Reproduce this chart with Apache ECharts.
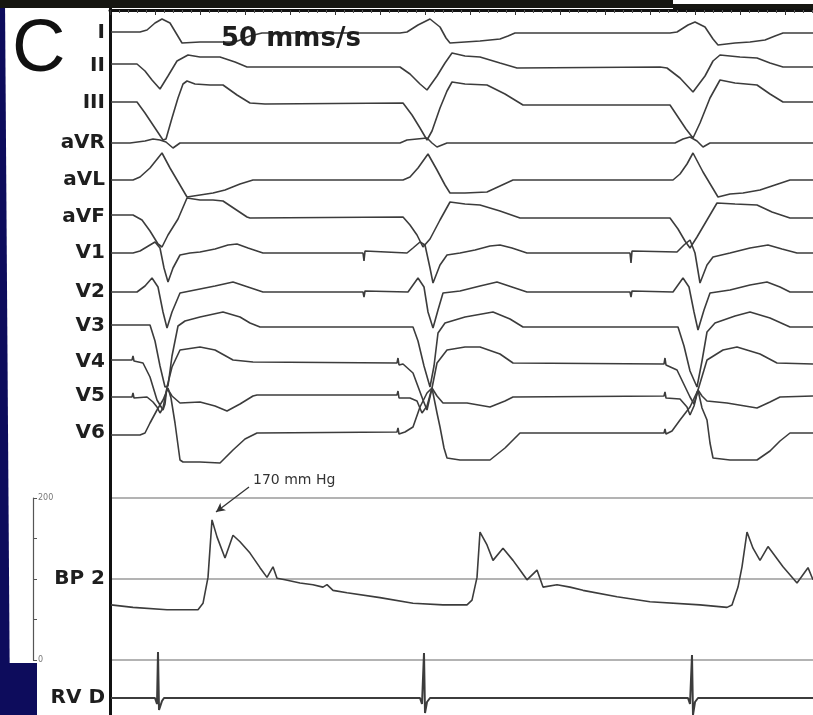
<!DOCTYPE html>
<html>
<head>
<meta charset="utf-8">
<script src="https://cdn.jsdelivr.net/npm/echarts@6/dist/echarts.min.js"></script>
<style>
  html, body { margin: 0; padding: 0; background: #fff; }
  #ecg { width: 813px; height: 715px; }
</style>
</head>
<body>
<div id="ecg"></div>
<script>
const leadI = [[111,1],[140,1],[147,3],[155,10],[162,14],[170,10],[176,0],[182,-10],[200,-9],[235,-9],[250,-3],[262,0],[400,0],[407,1],[418,8],[430,14],[440,6],[446,-5],[450,-10],[465,-9],[480,-8],[500,-6],[508,-3],[515,0],[670,0],[677,1],[688,8],[695,11],[705,6],[713,-6],[718,-12],[735,-10],[750,-9],[765,-7],[775,-3],[783,0],[813,0]]
const leadII = [[111,2],[137,2],[145,-5],[152,-14],[160,-23],[168,-10],[177,5],[188,11],[200,9],[220,9],[235,4],[247,-1],[363,-1],[365,1],[367,-1],[400,-1],[410,-8],[420,-18],[427,-24],[437,-10],[445,3],[452,13],[465,10],[480,9],[500,3],[517,-2],[660,-1],[667,-2],[680,-12],[693,-26],[705,-10],[713,5],[720,11],[740,9],[757,8],[770,3],[783,-1],[813,-1]]
const leadIII = [[111,1],[137,1],[145,-10],[155,-25],[163,-37],[166,-36],[172,-15],[178,5],[183,19],[187,22],[195,19],[210,18],[223,18],[237,8],[250,0],[265,-1],[403,0],[412,-12],[420,-25],[427,-37],[432,-28],[440,-5],[447,12],[452,21],[465,19],[487,18],[505,9],[523,-2],[670,-2],[678,-14],[686,-26],[693,-35],[700,-20],[710,5],[720,23],[735,20],[757,18],[770,9],[783,1],[813,1]]
const leadAVR = [[111,0],[130,0],[145,2],[153,4],[160,3],[166,1],[173,-5],[180,0],[400,0],[407,3],[427,5],[432,0],[437,-4],[447,0],[675,0],[683,4],[690,6],[697,2],[703,-4],[710,0],[813,0]]
const leadAVL = [[111,0],[133,0],[140,3],[150,12],[162,27],[170,12],[180,-5],[187,-17],[200,-15],[213,-13],[225,-10],[240,-4],[253,0],[403,0],[410,3],[418,12],[428,26],[437,10],[445,-5],[450,-13],[465,-13],[487,-12],[500,-6],[513,0],[673,0],[680,6],[687,16],[693,27],[703,8],[712,-7],[718,-17],[730,-14],[743,-13],[760,-10],[775,-5],[790,0],[813,0]]
const leadAVF = [[111,2],[133,2],[142,-3],[150,-14],[158,-27],[162,-30],[168,-18],[178,-2],[187,19],[200,17],[213,17],[223,16],[235,8],[247,0],[250,-1],[403,0],[410,-8],[417,-18],[423,-30],[430,-22],[440,-3],[450,15],[465,13],[480,12],[500,6],[520,-1],[670,-1],[678,-12],[685,-24],[690,-31],[697,-20],[707,-3],[717,14],[735,13],[757,12],[772,5],[790,-1],[813,-1]]
const leadV1 = [[111,0],[133,0],[140,2],[150,8],[155,11],[160,5],[164,-15],[168,-29],[173,-15],[180,-2],[190,0],[200,1],[215,4],[228,8],[237,9],[248,5],[263,0],[363,0],[364,-8],[365,2],[366,0],[407,0],[413,5],[420,11],[425,8],[430,-15],[433,-30],[440,-12],[447,-2],[460,0],[475,3],[490,7],[500,8],[512,5],[527,0],[630,0],[631,-10],[632,2],[633,0],[677,1],[684,8],[690,13],[695,0],[700,-30],[707,-12],[713,-4],[730,0],[750,5],[768,8],[782,4],[797,0],[813,0]]
const leadV2 = [[111,0],[137,0],[145,6],[152,14],[158,5],[163,-20],[167,-36],[172,-20],[180,-1],[195,2],[215,6],[233,10],[248,5],[263,0],[363,0],[364,-5],[365,1],[366,0],[408,0],[413,7],[418,14],[424,5],[428,-20],[433,-36],[438,-18],[443,-1],[460,1],[480,6],[497,10],[512,5],[527,0],[630,0],[631,-5],[632,1],[633,0],[673,0],[678,7],[683,14],[689,5],[694,-20],[698,-38],[704,-18],[710,-1],[730,2],[750,7],[767,10],[780,5],[790,0],[813,0]]
const leadV3 = [[111,1],[150,1],[155,-15],[160,-40],[165,-61],[168,-60],[172,-30],[178,0],[185,5],[200,9],[223,14],[240,9],[250,3],[260,-1],[413,-1],[418,-15],[424,-40],[430,-61],[434,-40],[438,-7],[445,3],[465,9],[493,14],[510,7],[523,-1],[678,-1],[684,-20],[690,-45],[697,-61],[702,-35],[707,-6],[715,3],[735,10],[750,14],[770,8],[790,-1],[813,-1]]
const leadV4 = [[111,2],[132,2],[133,6],[134,1],[143,-1],[150,-15],[157,-38],[163,-48],[165,-42],[167,-25],[172,-5],[180,12],[200,15],[215,12],[233,2],[253,0],[397,-1],[398,4],[399,-3],[403,-2],[413,-11],[423,-38],[427,-48],[432,-26],[437,-1],[447,12],[465,15],[480,15],[500,8],[513,-1],[664,-2],[665,4],[666,-3],[677,-8],[690,-35],[694,-42],[698,-28],[707,2],[723,12],[737,15],[760,8],[777,-1],[813,-2]]
const leadV5 = [[111,-1],[132,-1],[133,3],[134,-2],[147,-1],[153,-6],[157,-11],[160,-17],[163,-12],[167,8],[172,0],[180,-7],[200,-6],[215,-10],[227,-15],[240,-8],[253,0],[257,1],[397,1],[398,5],[399,-2],[410,-2],[417,-5],[422,-17],[427,-10],[432,8],[437,0],[443,-7],[467,-7],[490,-11],[505,-5],[513,-1],[664,0],[665,4],[666,-2],[680,-3],[687,-11],[690,-19],[694,-10],[698,6],[702,0],[707,-5],[727,-7],[757,-12],[770,-6],[780,-1],[813,0]]
const leadV6 = [[111,-2],[140,-2],[145,0],[150,10],[157,23],[163,33],[168,45],[171,35],[175,10],[180,-27],[183,-29],[200,-29],[220,-30],[233,-17],[245,-6],[257,0],[397,1],[398,5],[399,-1],[405,1],[413,6],[420,26],[427,40],[432,45],[437,20],[440,6],[444,-15],[447,-25],[460,-27],[490,-27],[505,-15],[520,0],[664,0],[665,4],[666,-1],[672,2],[680,13],[690,26],[698,43],[702,25],[707,13],[710,-10],[713,-25],[730,-27],[757,-27],[770,-18],[780,-8],[790,0],[813,0]]
const rvD = [[111,0],[155,0],[157,-6],[158,46],[159,-12],[160,-14],[162,-3],[164,0],[420,0],[422,-6],[424,45],[425,-15],[427,-4],[430,0],[688,0],[690,-6],[692,43],[693,-17],[695,-4],[698,0],[813,0]]

// arterial pressure, mm Hg
const bp2 = [[111,68],[133,65],[167,62],[198,62],[203,70],[208,102],[212,173],[217,152],[225,126],[233,154],[240,146],[250,132],[260,114],[267,102],[273,115],[277,101],[285,99],[300,95],[313,93],[323,90],[327,93],[333,86],[347,83],[380,77],[413,70],[443,68],[467,68],[472,74],[477,102],[480,158],[487,142],[493,123],[503,138],[513,123],[520,111],[527,99],[537,111],[543,90],[557,93],[570,90],[583,86],[617,78],[650,72],[700,68],[727,65],[732,68],[738,90],[742,115],[747,158],[753,138],[760,123],[768,140],[783,115],[797,95],[808,114],[813,99]]

const leadNames = ['I','II','III','aVR','aVL','aVF','V1','V2','V3','V4','V5','V6']
const leadData = [leadI, leadII, leadIII, leadAVR, leadAVL, leadAVF, leadV1, leadV2, leadV3, leadV4, leadV5, leadV6]
const bpTicks = [0, 50, 100, 150, 200]
const peakNote = '170 mm Hg'

// layout: baseline of each channel (sweep units, top = 0)
const baselines = [33, 66, 103, 143, 180, 217, 253, 292, 326, 362, 396, 433]
const rvBase = 698
const bpLabelRow = 579
const labelRows = baselines.concat([bpLabelRow, rvBase])
const labelText = leadNames.concat(['BP 2', 'RV D'])

const chart = echarts.init(document.getElementById('ecg'))

const traceStyle = { color: '#3c3c3c', width: 1.6 }
const series = leadData.map((d, i) => ({
  name: leadNames[i],
  type: 'line',
  xAxisIndex: 0,
  yAxisIndex: 0,
  data: d.map(p => [p[0], baselines[i] - p[1]]),
  symbol: 'none',
  lineStyle: traceStyle,
  silent: true,
  clip: false
}))
series.push({
  name: 'RV D',
  type: 'line',
  xAxisIndex: 0,
  yAxisIndex: 0,
  data: rvD.map(p => [p[0], rvBase - p[1]]),
  symbol: 'none',
  lineStyle: { color: '#3c3c3c', width: 2 },
  silent: true,
  clip: false,
  // arrow pointing at the first pressure peak
  markLine: {
    silent: true,
    symbol: ['none', 'arrow'],
    symbolSize: [7, 9],
    lineStyle: { color: '#333', width: 1.3, type: 'solid' },
    label: { show: false },
    data: [[{ coord: [249, 487] }, { coord: [216, 512] }]]
  }
})
series.push({
  name: 'BP 2',
  type: 'line',
  xAxisIndex: 1,
  yAxisIndex: 1,
  data: bp2,
  symbol: 'none',
  lineStyle: traceStyle,
  silent: true,
  clip: false
})

chart.setOption({
  animation: false,
  backgroundColor: '#fff',
  grid: [
    { left: 110, right: 0, top: 0, bottom: 0 },
    { left: 110, right: 0, top: 498, height: 162 },
    { left: 110, right: 0, top: 9, height: 1 }
  ],
  xAxis: [
    { gridIndex: 0, type: 'value', min: 110, max: 813, show: false },
    { gridIndex: 1, type: 'value', min: 110, max: 813, show: false },
    {
      gridIndex: 2, type: 'value', position: 'top', min: 0, max: 703, interval: 45,
      axisLine: { show: true, lineStyle: { color: '#111', width: 3 } },
      axisTick: { show: true, inside: true, length: 5, lineStyle: { color: '#333', width: 1 } },
      minorTick: { show: true, splitNumber: 5, length: 3, lineStyle: { color: '#555', width: 1 } },
      axisLabel: { show: false },
      splitLine: { show: false }
    }
  ],
  yAxis: [
    {
      gridIndex: 0, type: 'value', inverse: true, min: 0, max: 715,
      axisLine: { show: true, lineStyle: { color: '#111', width: 3 } },
      axisTick: { show: false },
      splitLine: { show: false },
      axisLabel: {
        show: true,
        customValues: labelRows,
        margin: 5,
        fontFamily: 'DejaVu Sans',
        fontWeight: 'bold',
        fontSize: 20,
        color: '#1e1e1e',
        formatter: v => labelText[labelRows.indexOf(v)]
      }
    },
    {
      gridIndex: 1, type: 'value', min: 0, max: 200, interval: 100,
      axisLine: { show: false }, axisTick: { show: false }, axisLabel: { show: false },
      splitLine: { show: true, lineStyle: { color: '#9a9a9a', width: 1.5 } }
    },
    {
      gridIndex: 1, type: 'value', min: 0, max: 200, interval: 50,
      position: 'left', offset: 77,
      axisLine: { show: true, lineStyle: { color: '#555', width: 1.2 } },
      axisTick: { show: true, inside: true, length: 4, lineStyle: { color: '#555' } },
      splitLine: { show: false },
      axisLabel: {
        show: true, inside: true, margin: 5,
        fontFamily: 'DejaVu Sans', fontSize: 8, color: '#777',
        customValues: [bpTicks[0], bpTicks[4]]
      }
    },
    { gridIndex: 2, type: 'value', min: 0, max: 1, show: false }
  ],
  graphic: [
    { type: 'polygon', shape: { points: [[0,0],[5,0],[10,715],[0,715]] }, style: { fill: '#0d0c5c' }, z: 100 },
    { type: 'rect', shape: { x: 0, y: 663, width: 37, height: 52 }, style: { fill: '#0d0c5c' }, z: 100 },
    { type: 'rect', shape: { x: 0, y: 0, width: 673, height: 8 }, style: { fill: '#161611' }, z: 100 },
    { type: 'rect', shape: { x: 673, y: 4, width: 140, height: 5 }, style: { fill: '#161611' }, z: 100 },
    { type: 'text', left: 12, top: 14, style: { text: 'C', font: '74px "Liberation Sans"', fill: '#111' }, z: 100 },
    { type: 'text', left: 221, top: 26, style: { text: '50 mms/s', font: 'bold 26px "DejaVu Sans"', fill: '#1e1e1e' }, z: 100 },
    { type: 'text', left: 253, top: 473, style: { text: peakNote, font: '14px "DejaVu Sans"', fill: '#333' }, z: 100 }
  ],
  series: series
})
</script>
</body>
</html>
